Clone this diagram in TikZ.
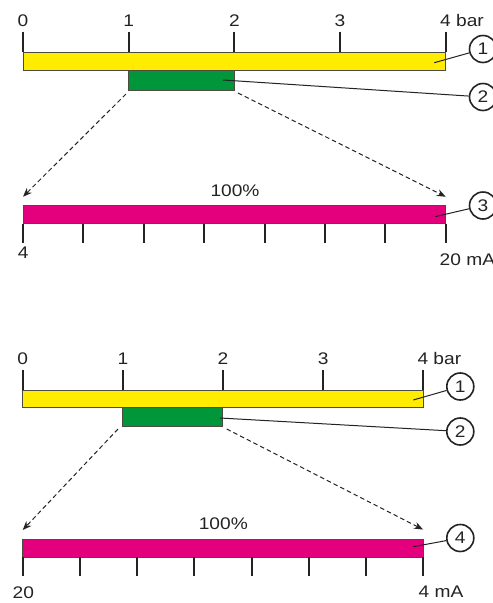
\documentclass[tikz,border=0pt]{standalone}
\usepackage{fontspec}
\setmainfont{Liberation Sans}[FakeStretch=1.14]
\usetikzlibrary{arrows.meta,calc}
\definecolor{ybar}{RGB}{255,236,0}
\definecolor{gbar}{RGB}{0,150,57}
\definecolor{mbar}{RGB}{228,0,125}
\definecolor{edgec}{RGB}{75,75,65}
\definecolor{ink}{RGB}{35,35,35}
\tikzset{
  bar/.style={draw=edgec, line width=0.8pt, inner sep=0pt, outer sep=0pt, anchor=north west},
  majtick/.style={draw=ink, line width=2.2pt},
  mintick/.style={draw=ink, line width=2pt},
  lbl/.style={font=\fontsize{16.8}{19}\selectfont, inner sep=0pt, text=ink},
  callout/.style={circle, draw=ink, line width=1.6pt, minimum size=27pt, inner sep=0pt,
                  font=\fontsize{16.8}{19}\selectfont, text=ink},
  leader/.style={draw=ink, line width=1pt},
  proj/.style={draw=ink, line width=1pt, dash pattern=on 4.5pt off 3pt,
               -{Stealth[length=9pt,width=7pt]}}
}
\begin{document}
\begin{tikzpicture}[x=1pt,y=-1pt]
\useasboundingbox (0,0) rectangle (493,603);
\clip (0,0) rectangle (493,603);

% ================= top diagram =================
\node[bar, fill=ybar, minimum width=422.7pt, minimum height=18.4pt] (y1) at (23,52.3) {};
\node[bar, fill=gbar, minimum width=105.7pt, minimum height=20pt] (g1) at (128.7,70.7) {};
\node[bar, fill=mbar, minimum width=422.7pt, minimum height=18.5pt] (m1) at (23,205) {};

% scale ticks and labels
\foreach \i/\t in {0/0,1/1,2/2,3/3} {
  \coordinate (ta\i) at (23+105.68*\i,31.7);
  \coordinate (tb\i) at (23+105.68*\i,52.3);
  \draw[majtick] (ta\i) -- (tb\i);
  \node[lbl, anchor=base] (l1\i) at (23+105.68*\i,26.7) {\t};
}
\coordinate (ta4) at (445.7,31.7);
\coordinate (tb4) at (445.7,52.3);
\draw[majtick] (ta4) -- (tb4);
\node[lbl, anchor=base west] (l14) at (440,26.7) {4 bar};

% current ticks
\foreach \k in {0,...,7} {
  \coordinate (ma\k) at (23+60.386*\k,223.5);
  \coordinate (mb\k) at (23+60.386*\k,243.3);
  \draw[mintick] (ma\k) -- (mb\k);
}
\node[lbl, anchor=base] (c4a) at (23.3,258) {4};
\node[lbl, anchor=base west] (c20a) at (439.5,265) {20 mA};
\node[lbl, anchor=base] (p1) at (235,196) {100\%};

% callouts
\node[callout] (n1a) at (483,49) {1};
\node[callout] (n2a) at (483,97) {2};
\node[callout] (n3a) at (483,205.5) {3};
\coordinate (s1a) at (434.3,62.7);
\coordinate (s2a) at (223,80);
\coordinate (s3a) at (435,216.7);
\draw[leader] (s1a) -- (n1a);
\draw[leader] (s2a) -- (n2a);
\draw[leader] (s3a) -- (n3a);

% projection arrows
\coordinate (d1s) at (126,94);
\coordinate (d1e) at (23,196.7);
\coordinate (d2s) at (238,93);
\coordinate (d2e) at (445.7,196.7);
\draw[proj] (d1s) -- (d1e);
\draw[proj] (d2s) -- (d2e);

% ================= bottom diagram =================
\node[bar, fill=ybar, minimum width=400.6pt, minimum height=17.3pt] (y2) at (22.7,390) {};
\node[bar, fill=gbar, minimum width=99.6pt, minimum height=19.4pt] (g2) at (122.7,407.3) {};
\node[bar, fill=mbar, minimum width=400.6pt, minimum height=18pt] (m2) at (22.7,539) {};

\foreach \i/\t in {0/0,1/1,2/2,3/3} {
  \coordinate (ua\i) at (22.7+100.15*\i,370);
  \coordinate (ub\i) at (22.7+100.15*\i,390);
  \draw[majtick] (ua\i) -- (ub\i);
  \node[lbl, anchor=base] (l2\i) at (22.7+100.15*\i,364) {\t};
}
\coordinate (ua4) at (423.3,370);
\coordinate (ub4) at (423.3,390);
\draw[majtick] (ua4) -- (ub4);
\node[lbl, anchor=base west] (l24) at (417.3,364) {4 bar};

\foreach \k in {0,...,7} {
  \coordinate (na\k) at (22.7+57.229*\k,557);
  \coordinate (nb\k) at (22.7+57.229*\k,576);
  \draw[mintick] (na\k) -- (nb\k);
}
\node[lbl, anchor=base] (c20b) at (23.3,598) {20};
\node[lbl, anchor=base west] (c4b) at (418.5,597.5) {4 mA};
\node[lbl, anchor=base] (p2) at (223.3,529.5) {100\%};

\node[callout] (n1b) at (460.3,386.5) {1};
\node[callout] (n2b) at (460.3,431.5) {2};
\node[callout] (n4b) at (460.3,538) {4};
\coordinate (s1b) at (413.3,400);
\coordinate (s2b) at (220,418);
\coordinate (s4b) at (413.3,546.7);
\draw[leader] (s1b) -- (n1b);
\draw[leader] (s2b) -- (n2b);
\draw[leader] (s4b) -- (n4b);

\coordinate (e1s) at (118,429);
\coordinate (e1e) at (22.7,530);
\coordinate (e2s) at (226.7,429);
\coordinate (e2e) at (423,529.5);
\draw[proj] (e1s) -- (e1e);
\draw[proj] (e2s) -- (e2e);
\end{tikzpicture}
\end{document}
